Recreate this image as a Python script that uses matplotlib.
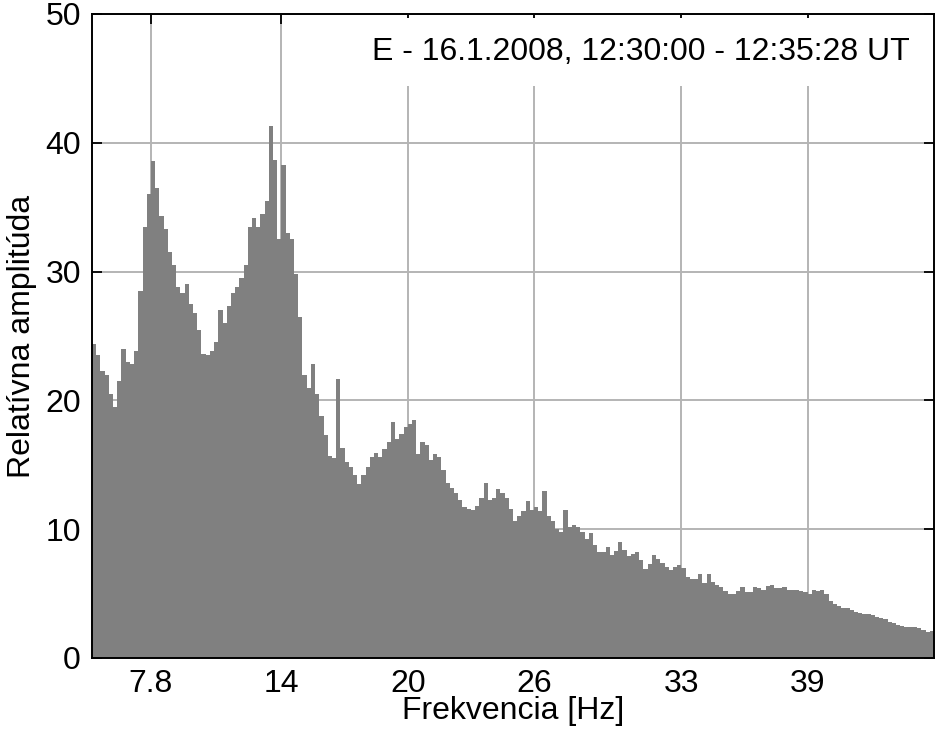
import numpy as np
import matplotlib
matplotlib.use('Agg')
import matplotlib.pyplot as plt

plt.rcParams['font.family'] = ['Liberation Sans', 'DejaVu Sans']

# spektrum, biny po 0.2 Hz od 5 do 45 Hz
f_start = 5.0
f_stop = 45.0
amp = [
    24.4, 23.5, 22.3, 22.0, 20.5, 19.5, 21.5, 24.0, 23.0, 22.8,
    23.8, 28.5, 33.5, 36.0, 38.6, 36.5, 34.3, 33.3, 31.5, 30.5,
    28.8, 28.3, 29.0, 27.5, 26.8, 25.5, 23.6, 23.5, 23.8, 24.5,
    27.0, 26.0, 27.3, 28.3, 28.8, 29.5, 30.5, 33.5, 34.2, 33.5,
    34.5, 35.5, 41.3, 38.7, 32.5, 38.3, 33.0, 32.5, 29.8, 26.5,
    22.0, 21.0, 22.8, 20.5, 18.8, 17.3, 15.7, 15.5, 21.7, 16.3,
    15.2, 14.8, 14.2, 13.5, 14.2, 14.8, 15.6, 15.9, 15.6, 16.2,
    16.8, 18.3, 17.0, 17.4, 17.9, 18.2, 18.5, 15.8, 16.8, 16.5,
    15.4, 15.8, 15.6, 14.6, 13.6, 13.2, 12.8, 12.3, 11.7, 11.6,
    11.5, 11.8, 12.4, 13.6, 12.3, 12.4, 13.1, 12.8, 12.4, 11.6,
    10.6, 11.0, 11.4, 12.2, 11.5, 11.7, 11.4, 13.0, 11.0, 10.6,
    10.0, 9.8, 11.5, 10.2, 10.3, 10.2, 9.8, 9.2, 9.7, 8.8,
    8.2, 8.2, 8.6, 8.0, 8.3, 9.0, 8.4, 7.9, 8.1, 8.2,
    7.6, 6.9, 7.3, 8.0, 7.7, 7.4, 7.1, 6.8, 7.1, 7.2,
    7.0, 6.3, 6.1, 6.1, 6.5, 5.8, 6.5, 5.9, 5.7, 5.5,
    5.2, 5.0, 5.0, 5.2, 5.5, 5.1, 5.1, 5.5, 5.4, 5.3,
    5.6, 5.7, 5.4, 5.4, 5.5, 5.3, 5.3, 5.3, 5.2, 5.1,
    5.0, 5.3, 5.2, 5.3, 5.0, 4.4, 4.2, 4.0, 3.9, 3.9,
    3.7, 3.6, 3.5, 3.4, 3.4, 3.3, 3.2, 3.1, 3.0, 2.8,
    2.7, 2.6, 2.5, 2.4, 2.4, 2.4, 2.3, 2.2, 2.0, 2.1,
]
x_ticks = [7.8, 14, 20, 26, 33, 39]
x_tick_labels = ['7.8', '14', '20', '26', '33', '39']
y_ticks = [0, 10, 20, 30, 40, 50]
title_txt = 'E - 16.1.2008, 12:30:00 - 12:35:28 UT'

edges = np.linspace(f_start, f_stop, len(amp) + 1)

fig = plt.figure(figsize=(9.36, 7.29), dpi=100)
ax = fig.add_axes([0.0983, 0.0974, 0.8995, 0.8834])

ax.stairs(amp, edges, fill=True, color='#808080', linewidth=0)

ax.set_xlim(f_start, f_stop)
ax.set_ylim(0, 50)
ax.set_xticks(x_ticks)
ax.set_xticklabels(x_tick_labels)
ax.set_yticks(y_ticks)

ax.set_axisbelow(True)
ax.grid(True, color='#b4b4b4', linewidth=1.4)
ax.tick_params(direction='in', length=7, width=1.3, top=True, right=True,
               labelsize=23, pad=8, colors='black')
for s in ax.spines.values():
    s.set_linewidth(1.4)
    s.set_color('black')
    s.set_zorder(3)

ax.set_xlabel('Frekvencia [Hz]', fontsize=23, labelpad=-2)
ax.set_ylabel('Relatívna amplitúda', fontsize=23, labelpad=6)

ax.text(0.9715, 0.941, title_txt, transform=ax.transAxes, ha='right', va='center',
        fontsize=23, bbox=dict(facecolor='white', edgecolor='none', pad=14), zorder=2)

fig.savefig('out.png', dpi=100)
